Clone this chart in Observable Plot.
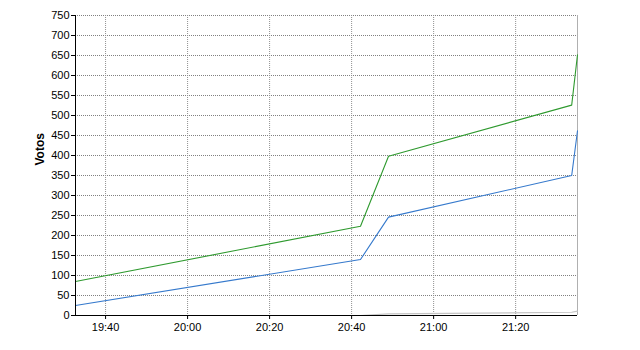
<!DOCTYPE html>
<html>
<head>
<meta charset="utf-8">
<script src="https://cdn.jsdelivr.net/npm/d3@7"></script>
<script src="https://cdn.jsdelivr.net/npm/@observablehq/plot@0.6"></script>
<style>
  body { margin: 0; background: #fff; }
  #chart svg { display: block; }
</style>
</head>
<body>
<div id="chart"></div>
<script>
const times = ["19:32:40", "20:42:10", "20:49:00", "21:33:40", "21:35:05"];
const greenVotes = [85, 223, 398, 526, 652];
const blueVotes = [25, 140, 246, 350, 462];
const greyVotes = [0, 0, 4, 8, 11];
const xTickLabels = ["19:40", "20:00", "20:20", "20:40", "21:00", "21:20"];
const yTicks = [0, 50, 100, 150, 200, 250, 300, 350, 400, 450, 500, 550, 600, 650, 700, 750];

const toDate = s => new Date("2020-01-01T" + (s.length === 5 ? s + ":00" : s) + "Z");
const series = [
  {name: "Serie C", values: greyVotes, color: "#c4c4c4"},
  {name: "Serie B", values: blueVotes, color: "#3579cc"},
  {name: "Serie A", values: greenVotes, color: "#2f9a2f"}
];
const rows = series.flatMap(s => times.map((t, i) => ({t: toDate(t), v: s.values[i], name: s.name})));
const colorDomain = series.map(s => s.name);
const colorRange = series.map(s => s.color);
const xDomain = [toDate(times[0]), toDate(times[times.length - 1])];

const chart = Plot.plot({
  width: 640,
  height: 350,
  marginLeft: 75,
  marginRight: 63,
  marginTop: 15,
  marginBottom: 35,
  style: {fontFamily: "Liberation Sans, Arial, sans-serif", fontSize: "11px", color: "#000", background: "#fff"},
  x: {type: "utc", domain: xDomain},
  y: {domain: [0, 750]},
  color: {type: "ordinal", domain: colorDomain, range: colorRange},
  marks: [
    Plot.gridY(yTicks, {stroke: "#808080", strokeOpacity: 1, strokeDasharray: "1,1"}),
    Plot.gridX(xTickLabels.map(toDate), {stroke: "#909090", strokeOpacity: 1, strokeDasharray: "1,1"}),
    Plot.ruleX([xDomain[1]], {stroke: "#b0b0b0"}),
    Plot.line(rows, {x: "t", y: "v", z: "name", stroke: "name", strokeWidth: 1.1}),
    Plot.axisY(yTicks, {tickSize: 4, tickPadding: 2, label: null, fontSize: 11}),
    Plot.ruleX([xDomain[0]], {stroke: "#000"}),
    Plot.ruleY([0], {stroke: "#000"}),
    Plot.axisX(xTickLabels.map(toDate), {tickSize: 4, tickPadding: 4, tickFormat: d3.utcFormat("%H:%M"), label: null, fontSize: 11}),
    Plot.text(["Votos"], {frameAnchor: "left", dx: -35, rotate: -90, fontWeight: "bold", fontSize: 12, text: d => d})
  ]
});
document.getElementById("chart").appendChild(chart);
</script>
</body>
</html>
